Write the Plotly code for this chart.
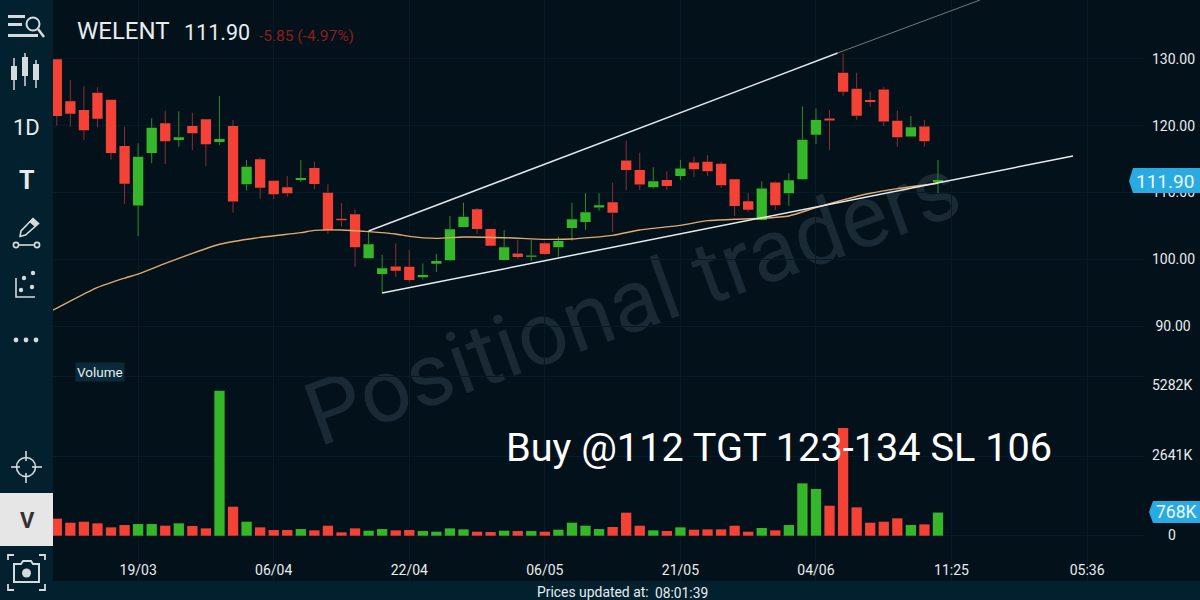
import plotly.graph_objects as go

W, H = 1200, 600

open_ = [129.95,123.67,122.37,124.96,123.9,116.98,108.05,115.93,120.37,117.88,119.97,120.97,117.58,119.97,111.24,114.98,111.79,110.79,111.89,113.68,109.99,106.1,106.75,100.16,97.82,98.95,98.9,97.31,99.36,99.86,104.85,107.5,104.55,99.9,100.9,100.4,102.4,101.8,104.7,105.6,107.75,108.55,114.8,113.4,110.8,111.9,112.5,114.5,114.6,114.3,112.0,108.7,105.9,111.5,109.9,112.0,118.67,121.1,127.95,125.56,123.86,125.45,120.76,118.4,119.9,111.5]
high = [130.0,126.86,125.96,125.76,123.9,119.87,117.38,121.12,122.27,122.17,121.97,121.0,124.46,120.87,114.88,115.28,111.8,112.49,114.88,114.63,111.24,108.4,107.5,104.15,100.66,102.4,101.4,99.4,100.8,106.5,108.5,107.7,104.55,104.4,102.9,102.9,102.65,103.4,108.5,109.9,109.9,111.5,117.8,116.0,113.8,113.2,114.9,115.4,115.6,114.6,112.0,109.9,111.7,111.7,112.9,122.9,122.6,122.4,130.84,127.95,125.1,125.85,122.26,121.46,120.86,114.88]
low = [120.07,119.87,117.88,119.77,114.93,108.3,103.5,114.38,114.28,116.88,116.38,113.98,117.13,107.0,110.3,109.1,108.99,109.39,111.59,110.49,103.8,104.9,98.9,100.1,94.92,97.4,96.6,97.0,98.1,99.7,104.8,103.8,101.95,99.85,100.06,99.76,100.7,100.4,102.8,104.4,107.3,104.1,110.4,110.4,110.6,110.4,111.9,112.3,112.5,110.7,106.5,107.1,105.85,107.4,108.0,111.9,117.27,116.4,124.5,120.9,122.86,119.97,116.87,118.37,116.87,109.9]
close = [121.47,121.82,119.32,121.07,115.93,111.34,115.38,119.72,117.68,118.28,118.87,117.23,118.03,108.65,113.88,110.74,109.74,109.89,112.19,111.29,104.35,105.85,101.81,102.26,98.67,98.3,96.9,97.66,99.76,104.5,106.4,104.55,102.05,101.8,100.36,100.6,100.8,102.75,106.0,107.05,108.1,107.0,113.4,111.2,111.7,111.0,113.6,113.5,113.2,111.1,108.0,107.44,110.6,108.1,111.83,117.9,120.86,120.8,125.1,121.5,123.56,120.66,118.3,119.77,117.67,111.9]
volume_k = [565,432,465,410,277,354,387,387,332,410,321,244,4815,963,465,277,188,188,221,177,332,111,244,166,221,177,188,155,133,244,210,133,122,166,155,155,133,199,432,332,221,288,764,332,177,155,277,199,210,210,332,133,255,177,354,1738,1550,996,3576,941,432,465,576,354,376,768]
candle_index = list(range(len(close)))

ma_index = [-0.3,0,3,5,6,8,10,12,15,18,19,21,23,25,26,28,30,33,36,38,41,43,46,48,50,52,54,56,58,60,62,65]
ma_value = [92.4,92.7,95.8,97.2,97.8,99.4,100.9,102.26,103.3,104.0,104.35,104.4,104.15,103.8,103.45,103.15,103.35,103.25,103.0,103.05,103.6,104.4,105.1,105.8,106.0,106.15,106.5,107.75,108.9,109.9,110.6,111.4]

upper_trend_index = [23, 57.6]
upper_trend_price = [104.25, 130.9]
upper_ext_index = [57.6, 68.1]
upper_ext_price = [130.9, 138.83]
lower_trend_index = [24, 74.96]
lower_trend_price = [94.97, 115.48]

date_ticks = [6, 16, 26, 36, 46, 56, 66, 76]
date_labels = ["19/03", "06/04", "22/04", "06/05", "21/05", "04/06", "11:25", "05:36"]
price_ticks = [90, 100, 110, 120, 130]
price_labels = ["\u00a090.00", "100.00", "110.00", "120.00", "130.00"]
vol_ticks = [0, 2641, 5282]
vol_labels = ["0", "2641K", "5282K"]

RED, GREEN = "#f44336", "#35b729"
RED_W, GREEN_W = "#8a3035", "#2f8a2a"
BG, SIDE = "#03111b", "#03202e"
GRID = "#081a25"
TXT = "#e8ecee"


def px(x):
    return x / W


def py(y):
    return 1 - y / H


def P(*pts, close_path=False):
    s = " ".join(("M" if i == 0 else "L") + f"{px(a):.5f},{py(b):.5f}" for i, (a, b) in enumerate(pts))
    return s + (" Z" if close_path else "")


shapes = []


def add(path=None, color=None, fill=None, width=1.6):
    shapes.append(dict(type="path", xref="paper", yref="paper", path=path, layer="above",
                       line=dict(color=color or "rgba(0,0,0,0)", width=width if color else 0),
                       fillcolor=fill or "rgba(0,0,0,0)"))


def rect(x0, y0, x1, y1, fill):
    shapes.append(dict(type="rect", xref="paper", yref="paper", x0=px(x0), x1=px(x1), y0=py(y1), y1=py(y0),
                       fillcolor=fill, line=dict(width=0), layer="above"))


def circ(cx, cy, r, color=None, fill=None, width=1.6):
    shapes.append(dict(type="circle", xref="paper", yref="paper", x0=px(cx - r), x1=px(cx + r), y0=py(cy + r),
                       y1=py(cy - r), fillcolor=fill or "rgba(0,0,0,0)",
                       line=dict(color=color or "rgba(0,0,0,0)", width=width if color else 0), layer="above"))


# frame
rect(0, 0, 53, 600, SIDE)
rect(0, 581, 1200, 600, SIDE)
rect(0, 493, 53, 546, "#e6e6e6")
ICON = "#d5dadd"
# menu/search icon
rect(8, 15, 25, 18, ICON); rect(8, 23, 22, 26, ICON); rect(8, 34, 38, 37, ICON)
circ(33, 24, 6.5, ICON, width=2)
add(P((38, 29), (44, 37)), ICON, width=2.5)
# candle icon
for cx, t, b, wt, wb in [(14, 66, 80, 58, 90), (25, 57, 76, 53, 86), (36, 64, 80, 60, 88)]:
    add(P((cx, wt), (cx, wb)), ICON, width=1.5)
    rect(cx - 3, t, cx + 3, b, ICON)
# pencil
add(P((33, 218.5), (38.5, 223.5), (25.5, 235), (20, 236.5), (21, 231), close_path=True), ICON, width=1.6)
add(P((33, 218.5), (38.5, 223.5), (35, 226.5), (29.5, 221.5), close_path=True), ICON, fill=ICON, width=1)
add(P((18.6, 245), (34.4, 245)), ICON, width=1.6)
circ(16, 245, 2.6, ICON); circ(37, 245, 2.6, ICON)
# scatter icon
add(P((16, 278), (16, 297), (35, 297)), ICON, width=1.6)
for cx, cy in [(24, 278), (33, 273), (21, 290), (32, 287)]:
    circ(cx, cy, 2.2, fill=ICON)
# dots
for cx in (16, 26, 36):
    circ(cx, 340, 2.4, fill=ICON)
# crosshair
circ(26, 467, 9.5, ICON)
for seg in [((26, 451), (26, 461)), ((26, 473), (26, 483)), ((11, 467), (20, 467)), ((32, 467), (42, 467))]:
    add(P(*seg), ICON)
# camera
for seg in [((8, 560), (8, 555), (14, 555)), ((39, 555), (45, 555), (45, 560)),
            ((8, 584), (8, 590), (14, 590)), ((39, 590), (45, 590), (45, 584))]:
    add(P(*seg), ICON, width=1.8)
add(P((14, 564), (21, 564), (23, 561), (31, 561), (33, 564), (39, 564), (39, 582), (14, 582), close_path=True), ICON, width=2)
circ(26.5, 573, 4.5, fill=ICON)
# badges
add(P((1129, 181), (1133, 168), (1200, 168), (1200, 193), (1133, 193), close_path=True), fill="#29abe2")
add(P((1149, 512), (1153, 501), (1200, 501), (1200, 523), (1153, 523), close_path=True), fill="#29abe2")
# watermark below the marks
shapes.append(dict(type="rect", xref="paper", yref="paper", x0=px(200), x1=px(1060), y0=py(545), y1=py(45),
                   line=dict(width=0), fillcolor="rgba(0,0,0,0)", layer="below",
                   label=dict(text="Positional traders", textangle=-20, textposition="middle center",
                              font=dict(family="Roboto", size=88, color="#1a2a35"))))


def note(text, x, y, size=14, color=TXT, anchor="left", bold=False, family="Roboto", **kw):
    return dict(text=f"<b>{text}</b>" if bold else text, x=px(x), y=py(y), xref="paper", yref="paper",
                xanchor=anchor, yanchor="middle", showarrow=False, font=dict(family=family, size=size, color=color), **kw)


annotations = [
    note("WELENT", 75, 31, 24),
    note("111.90", 182, 32, 21.5),
    note("-5.85 (-4.97%)", 257, 36, 15.5, "#8f1d1d"),
    note("1D", 26, 127, 22, anchor="center"),
    note("T", 27, 180, 25, anchor="center", bold=True),
    note("V", 27, 520, 22, "#333333", anchor="center", bold=True),
    note("Volume", 100, 372, 13.5, bgcolor="#0a2a3a", anchor="center"),
    note("Buy @112 TGT 123-134 SL 106", 504, 447, 39.7, "#ffffff"),
    note("Prices updated at:", 535, 591.5, 13.9),
    note("08:01:39", 653, 592.5, 13.8),
    note("111.90", 1165, 181, 19, "#eaf7fd", anchor="center"),
    note("768K", 1176, 512, 17.5, "#eaf7fd", anchor="center"),
]
for v, lab in zip(vol_ticks, vol_labels):
    annotations.append(dict(text=lab, x=px(1171.5), y=v, xref="paper", yref="y2", xanchor="center", yanchor="middle",
                            showarrow=False, yshift=-8 if v == 5282 else 1, font=dict(family="Roboto", size=14, color=TXT)))


def wicks(want_up):
    xs, ys = [], []
    for i, (o, h, l, c) in enumerate(zip(open_, high, low, close)):
        if (c >= o) != want_up:
            continue
        xs += [i, i, None, i, i, None]
        ys += [l, min(o, c), None, max(o, c), h, None]
    return xs, ys


fig = go.Figure()
fig.add_trace(go.Candlestick(x=candle_index, open=open_, high=high, low=low, close=close, xaxis="x", yaxis="y",
                             increasing=dict(fillcolor=GREEN, line=dict(color=GREEN, width=0)),
                             decreasing=dict(fillcolor=RED, line=dict(color=RED, width=0)),
                             whiskerwidth=0, showlegend=False, hoverinfo="skip"))
for up, col in ((True, GREEN_W), (False, RED_W)):
    wx, wy = wicks(up)
    fig.add_trace(go.Scatter(x=wx, y=wy, mode="lines", line=dict(color=col, width=1), showlegend=False, hoverinfo="skip"))
fig.add_trace(go.Scatter(x=ma_index, y=ma_value, mode="lines", line=dict(color="#e0ab6a", width=1.4, shape="spline", smoothing=0.5),
                         showlegend=False, hoverinfo="skip"))
for tx, ty, col, wd in ((upper_trend_index, upper_trend_price, "#dfe6ea", 1.5),
                        (upper_ext_index, upper_ext_price, "#6f7a80", 1),
                        (lower_trend_index, lower_trend_price, "#e6ecef", 1.5)):
    fig.add_trace(go.Scatter(x=tx, y=ty, mode="lines", line=dict(color=col, width=wd), showlegend=False, hoverinfo="skip"))
bar_colors = [GREEN if c >= o else RED for o, c in zip(open_, close)]
fig.add_trace(go.Bar(x=candle_index, y=volume_k, marker=dict(color=bar_colors, line=dict(width=0)), width=0.76,
                     xaxis="x2", yaxis="y2", showlegend=False, hoverinfo="skip"))

xr = [-0.28, 80.27]
dom = [px(53), px(1145)]
fig.update_layout(
    width=W, height=H, autosize=False, margin=dict(l=0, r=0, t=0, b=0, pad=0),
    paper_bgcolor=BG, plot_bgcolor=BG, showlegend=False, boxgap=0.24, boxgroupgap=0, hovermode=False,
    xaxis=dict(domain=dom, range=xr, anchor="y", tickvals=date_ticks, showticklabels=False, gridcolor=GRID,
               gridwidth=1, zeroline=False, showline=False, ticks="", rangeslider=dict(visible=False)),
    xaxis2=dict(domain=dom, range=xr, anchor="y2", tickvals=date_ticks, ticktext=date_labels, gridcolor=GRID,
                gridwidth=1, zeroline=False, showline=False, ticks="", ticklabelposition="inside",
                tickfont=dict(family="Roboto", size=14, color=TXT)),
    yaxis=dict(domain=[py(360), 1], range=[84.94, 138.83], anchor="x", side="right", tickvals=price_ticks,
               ticktext=price_labels, gridcolor=GRID, gridwidth=1, zeroline=False, showline=False, ticks="",
               ticklabelstandoff=6, tickfont=dict(family="Roboto", size=14, color=TXT)),
    yaxis2=dict(domain=[py(581), py(360)], range=[-1504, 5833], anchor="x2", side="right", tickvals=vol_ticks,
                showticklabels=False, gridcolor=GRID, gridwidth=1, zeroline=False, showline=False, ticks=""),
    shapes=shapes, annotations=annotations,
)
fig.write_html("out.html", config=dict(displayModeBar=False),
               post_script="document.body.style.margin='0';document.body.style.overflow='hidden';document.body.style.background='#03111b';")
